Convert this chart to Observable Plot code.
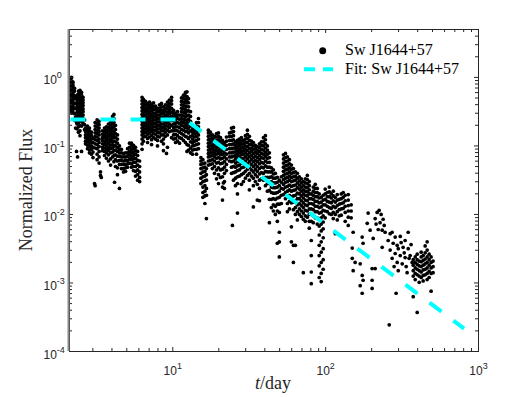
<!DOCTYPE html>
<html>
<head>
<meta charset="utf-8">
<script src="https://cdn.jsdelivr.net/npm/d3@7"></script>
<script src="https://cdn.jsdelivr.net/npm/@observablehq/plot@0.6"></script>
<style>
  html, body { margin: 0; padding: 0; background: white; }
</style>
</head>
<body>
<div id="chart"></div>
<script>
// Each column: [log10(t / day), log10(normalized flux) values at that time ...]
const colsEarly = [
  [0.328,-0.02,-0.06,-0.10,-0.13,-0.17,-0.21,-0.24,-0.28,-0.31,-0.35,-0.39,-0.42,-0.46,-0.50],
  [0.338,0.00,-0.05,-0.08,-0.12,-0.15,-0.19,-0.23,-0.26,-0.30,-0.33,-0.37,-0.41,-0.44,-0.48,-0.52],
  [0.347,-0.07,-0.11,-0.14,-0.18,-0.22,-0.25,-0.29,-0.32,-0.36,-0.40,-0.43,-0.47,-0.51],
  [0.357,-0.16,-0.20,-0.27,-0.31,-0.38,-0.45,-0.53,-0.62],
  [0.364,-0.58,-0.74],
  [0.370,-0.66,-1.08],
  [0.374,-0.26,-0.30,-0.34,-0.38,-0.42,-0.47,-0.51,-0.56,-0.62,-0.68,-0.75],
  [0.377,-1.16],
  [0.383,-0.20,-0.24,-0.28,-0.32,-0.37,-0.41,-0.45,-0.50,-0.54,-0.59,-0.66,-0.72,-0.80],
  [0.393,-0.19,-0.23,-0.27,-0.31,-0.35,-0.39,-0.44,-0.48,-0.53,-0.57,-0.63,-0.70,-0.78,-0.85],
  [0.403,-0.22,-0.26,-0.30,-0.34,-0.38,-0.43,-0.47,-0.52,-0.58,-0.64,-0.71,-1.08],
  [0.413,-0.29,-0.33,-0.37,-0.41,-0.46,-0.50,-0.55,-0.60,-0.67],
  [0.423,-0.62,-0.69,-0.76],
  [0.429,-0.74,-0.79,-0.84,-0.88,-0.93,-0.97],
  [0.442,-0.71,-0.76,-0.80,-0.85,-0.89,-0.94,-0.99,-1.04],
  [0.455,-0.74,-0.78,-0.83,-0.87,-0.92,-0.96,-1.01,-1.06,-1.10],
  [0.468,-0.80,-0.85,-0.90,-0.95,-1.00,-1.05,-1.12],
  [0.478,-0.89,-0.95,-1.02,-1.09,-1.17],
  [0.488,-1.55],
  [0.492,-0.66,-0.71,-0.76,-0.81,-0.86,-0.91,-0.97,-1.03,-1.58],
  [0.505,-0.62,-0.67,-0.72,-0.77,-0.82,-0.87,-0.92,-0.98,-1.04,-1.12,-1.20],
  [0.518,-0.64,-0.69,-0.74,-0.79,-0.84,-0.90,-0.95,-1.01,-1.08,-1.16,-1.25],
  [0.527,-1.38,-1.43],
  [0.532,-1.46],
  [0.540,-0.78,-0.83,-0.88,-0.92,-0.97,-1.02,-1.07],
  [0.553,-0.74,-0.79,-0.84,-0.88,-0.93,-0.98,-1.03,-1.08,-1.14],
  [0.566,-0.72,-0.77,-0.81,-0.86,-0.90,-0.95,-1.00,-1.05,-1.10,-1.18],
  [0.579,-0.68,-0.73,-0.78,-0.83,-0.87,-0.92,-0.97,-1.02,-1.07,-1.13,-1.22],
  [0.593,-0.65,-0.70,-0.75,-0.80,-0.85,-0.90,-0.94,-0.99,-1.04,-1.10,-1.19,-1.28],
  [0.606,-0.57,-0.63,-0.68,-0.73,-0.78,-0.83,-0.88,-0.93,-0.98,-1.03,-1.09,-1.16],
  [0.615,-0.54,-0.60,-0.66,-0.72,-0.79,-0.86,-0.93,-1.00,-1.07,-1.14,-1.23],
  [0.619,-1.53],
  [0.625,-0.70,-0.76,-0.82,-0.88,-0.94,-1.00,-1.06,-1.13,-1.20,-1.30],
  [0.638,-0.84,-0.90,-0.96,-1.02,-1.08,-1.15,-1.22,-1.32,-1.42],
  [0.651,-1.00,-1.05,-1.10,-1.15,-1.21,-1.27,-1.62],
  [0.664,-1.05,-1.10,-1.16,-1.21,-1.27,-1.33],
  [0.678,-1.11,-1.16,-1.22,-1.27,-1.33,-1.38],
  [0.691,-1.10,-1.16,-1.21,-1.27,-1.32,-1.37],
  [0.704,-1.04,-1.10,-1.15,-1.21,-1.26,-1.31],
  [0.717,-0.96,-1.02,-1.08,-1.13,-1.19,-1.25],
  [0.730,-0.96,-1.00,-1.05,-1.10,-1.15,-1.20,-1.26,-1.31],
  [0.743,-0.99,-1.04,-1.09,-1.14,-1.19,-1.24,-1.30,-1.36],
  [0.756,-1.02,-1.07,-1.12,-1.18,-1.24,-1.30,-1.37,-1.44],
  [0.770,-1.08,-1.14,-1.21,-1.28,-1.35,-1.42,-1.50],
  [0.783,-1.22,-1.30,-1.38,-1.46,-1.52]
];

const colsPlateau = [
  [0.799,-0.29,-0.34,-0.39,-0.44,-0.49,-0.54,-0.59,-0.64,-0.69,-0.74,-0.79,-0.84,-0.90,-0.97,-1.05],
  [0.808,-0.32,-0.37,-0.42,-0.47,-0.52,-0.57,-0.62,-0.67,-0.72,-0.77,-0.82,-0.87,-0.93],
  [0.822,-0.35,-0.40,-0.45,-0.50,-0.55,-0.60,-0.65,-0.70,-0.75,-0.80,-0.86],
  [0.835,-0.38,-0.43,-0.48,-0.53,-0.58,-0.63,-0.68,-0.73,-0.78,-0.83,-0.89,-0.95],
  [0.848,-0.36,-0.41,-0.46,-0.51,-0.56,-0.61,-0.66,-0.71,-0.76,-0.81,-0.87],
  [0.861,-0.39,-0.44,-0.49,-0.54,-0.59,-0.64,-0.69,-0.74,-0.79,-0.85,-0.91,-0.98],
  [0.874,-0.37,-0.42,-0.47,-0.52,-0.57,-0.62,-0.67,-0.72,-0.77,-0.82,-0.88],
  [0.887,-0.42,-0.47,-0.52,-0.57,-0.62,-0.67,-0.72,-0.77,-0.83,-0.90],
  [0.900,-0.45,-0.50,-0.55,-0.60,-0.65,-0.70,-0.75,-0.80,-0.86,-0.92,-1.00],
  [0.913,-0.40,-0.45,-0.50,-0.55,-0.60,-0.65,-0.70,-0.75,-0.81,-0.87],
  [0.926,-0.38,-0.43,-0.48,-0.53,-0.58,-0.63,-0.68,-0.73,-0.78,-0.84,-0.93],
  [0.939,-0.43,-0.48,-0.53,-0.58,-0.63,-0.68,-0.73,-0.78,-0.84,-0.90,-0.97,-1.07],
  [0.952,-0.40,-0.45,-0.50,-0.55,-0.60,-0.65,-0.70,-0.75,-0.80,-0.86],
  [0.959,-1.11],
  [0.965,-0.36,-0.41,-0.46,-0.51,-0.56,-0.61,-0.66,-0.71,-0.77,-0.84,-1.02],
  [0.978,-0.33,-0.38,-0.43,-0.48,-0.53,-0.58,-0.63,-0.68,-0.73,-0.79],
  [0.992,-0.29,-0.34,-0.39,-0.45,-0.51,-0.57,-0.63,-0.70,-0.78,-0.88],
  [1.005,-0.48,-0.53,-0.58,-0.63,-0.68,-0.73,-0.78,-0.84,-0.90],
  [1.018,-0.52,-0.57,-0.62,-0.67,-0.72,-0.77,-0.83,-0.89,-0.95],
  [1.031,-0.50,-0.55,-0.60,-0.66,-0.72,-0.78,-0.85,-0.93],
  [1.044,-0.55,-0.61,-0.67,-0.73,-0.80,-0.88,-0.96],
  [1.057,-0.30,-0.35,-0.40,-0.45,-0.50,-0.55,-0.60,-0.65,-0.70,-0.76,-0.82,-0.89],
  [1.070,-0.26,-0.31,-0.36,-0.41,-0.46,-0.51,-0.56,-0.61,-0.66,-0.71,-0.77,-0.84,-0.92],
  [1.083,-0.22,-0.27,-0.32,-0.37,-0.42,-0.47,-0.52,-0.57,-0.62,-0.67,-0.73,-0.79,-0.86,-0.95],
  [1.093,-0.21,-0.28,-0.35,-0.42,-0.49,-0.56,-0.63,-0.70,-0.78,-0.87,-0.98,-1.08],
  [1.103,-0.31,-0.37,-0.43,-0.49,-0.55,-0.61,-0.67,-0.74,-0.81,-0.89,-0.99,-1.06],
  [1.116,-0.50,-0.57,-0.64,-0.71,-0.78,-0.86,-0.94,-1.03,-1.10],
  [1.129,-0.70,-0.75,-0.80,-0.85,-0.90,-0.95,-1.00,-1.06,-1.12],
  [1.142,-0.72,-0.77,-0.82,-0.87,-0.93,-0.99,-1.05],
  [1.155,-0.66,-0.71,-0.76,-0.81,-0.86,-0.92,-0.98,-1.05,-1.12],
  [1.168,-0.60,-0.66,-0.72,-0.78,-0.84,-0.90,-0.97,-1.04]
];

const colsDecline = [
  [1.184,-1.17,-1.22,-1.27,-1.33,-1.40,-1.47,-1.55],
  [1.197,-1.20,-1.26,-1.32,-1.38,-1.45,-1.52,-1.60,-1.68,-1.75],
  [1.210,-1.25,-1.31,-1.37,-1.44,-1.51,-1.58,-1.66,-1.73,-1.84],
  [1.220,-1.33,-1.42,-1.50,-1.62,-1.72,-2.06],
  [1.233,-0.77,-0.81,-0.86,-0.91,-0.96,-1.01,-1.06,-1.11,-1.16,-1.22,-1.28],
  [1.246,-0.80,-0.85,-0.90,-0.95,-1.00,-1.05,-1.10,-1.15,-1.21,-1.27],
  [1.259,-0.84,-0.89,-0.94,-0.99,-1.04,-1.09,-1.14,-1.20,-1.26,-1.33],
  [1.273,-0.86,-0.91,-0.96,-1.01,-1.06,-1.11,-1.16,-1.22,-1.30,-1.40],
  [1.286,-0.82,-0.87,-0.92,-0.97,-1.02,-1.07,-1.12,-1.18,-1.25,-1.35,-1.48],
  [1.299,-0.81,-0.86,-0.91,-0.96,-1.01,-1.06,-1.11,-1.17,-1.24,-1.32,-1.42,-1.55],
  [1.312,-0.88,-0.93,-0.98,-1.03,-1.08,-1.13,-1.19,-1.26,-1.35,-1.46],
  [1.325,-0.92,-0.97,-1.02,-1.07,-1.12,-1.18,-1.25,-1.34,-1.45,-1.60,-1.79],
  [1.331,-1.54],
  [1.338,-0.95,-1.00,-1.05,-1.10,-1.16,-1.23,-1.31,-1.40,-1.52,-1.62],
  [1.351,-0.87,-0.93,-0.99,-1.05,-1.12,-1.19,-1.27,-1.36],
  [1.371,-0.81,-0.86,-0.92,-0.98,-1.04,-1.10,-1.16,-1.22],
  [1.384,-0.74,-0.80,-0.86,-0.92,-0.98,-1.04,-1.10,-1.16,-1.23,-1.31,-1.40],
  [1.390,-2.16],
  [1.397,-0.73,-0.79,-0.85,-0.91,-0.97,-1.03,-1.09,-1.15,-1.22,-1.30,-1.39,-1.50],
  [1.410,-0.94,-0.99,-1.04,-1.09,-1.14,-1.19,-1.25,-1.31,-1.38,-1.47,-1.58],
  [1.423,-0.92,-0.97,-1.02,-1.07,-1.12,-1.17,-1.23,-1.29,-1.36,-1.45,-1.55,-1.70,-1.98],
  [1.436,-0.90,-0.95,-1.00,-1.05,-1.10,-1.16,-1.22,-1.28,-1.35,-1.44],
  [1.449,-0.88,-0.93,-0.98,-1.03,-1.08,-1.13,-1.19,-1.25,-1.32,-1.42,-1.56],
  [1.462,-0.92,-0.97,-1.02,-1.07,-1.12,-1.18,-1.24,-1.31,-1.40,-1.52],
  [1.475,-0.85,-0.90,-0.95,-1.00,-1.05,-1.10,-1.16,-1.22,-1.29,-1.37,-1.47],
  [1.488,-0.77,-0.83,-0.89,-0.95,-1.01,-1.07,-1.13,-1.19,-1.26,-1.34,-1.43],
  [1.501,-0.86,-0.92,-0.98,-1.04,-1.10,-1.16,-1.23,-1.31,-1.40,-1.50,-1.64],
  [1.514,-0.93,-0.98,-1.03,-1.08,-1.14,-1.20,-1.27,-1.35,-1.44],
  [1.527,-0.95,-1.00,-1.05,-1.11,-1.17,-1.23,-1.30,-1.38,-1.47,-1.58,-1.89],
  [1.540,-0.99,-1.04,-1.09,-1.15,-1.21,-1.27,-1.34,-1.42,-1.52],
  [1.553,-1.01,-1.06,-1.11,-1.17,-1.23,-1.30,-1.37,-1.45,-1.56,-1.79],
  [1.567,-0.97,-1.02,-1.08,-1.14,-1.20,-1.26,-1.33,-1.41,-1.50,-1.62,-1.80],
  [1.580,-0.94,-0.99,-1.05,-1.11,-1.17,-1.24,-1.31,-1.39,-1.48],
  [1.593,-0.88,-0.94,-1.00,-1.06,-1.12,-1.18,-1.25,-1.32,-1.40,-1.50],
  [1.606,-0.85,-0.91,-0.97,-1.03,-1.09,-1.15,-1.22,-1.29,-1.37,-1.46,-1.58],
  [1.619,-1.00,-1.06,-1.12,-1.18,-1.24,-1.31,-1.38,-1.46,-1.55,-1.66],
  [1.632,-1.10,-1.17,-1.24,-1.31,-1.38,-1.46,-1.55,-1.65,-1.78,-2.12],
  [1.645,-1.32,-1.38,-1.45,-1.52,-1.60,-1.68,-1.78,-1.90],
  [1.658,-1.35,-1.41,-1.47,-1.54,-1.61,-1.69,-1.77,-1.86,-1.95],
  [1.671,-1.40,-1.47,-1.54,-1.61,-1.69,-1.78,-1.88,-2.00],
  [1.684,-1.46,-1.53,-1.60,-1.68,-1.76,-1.85,-1.95,-2.10,-2.42],
  [1.697,-1.50,-1.58,-1.66,-1.75,-1.85,-1.97,-2.26,-2.40,-2.62],
  [1.710,-1.45,-1.53,-1.62,-1.72,-1.84],
  [1.724,-1.13,-1.19,-1.25,-1.31,-1.37,-1.43,-1.49,-1.56,-1.63,-1.71],
  [1.737,-1.11,-1.17,-1.23,-1.29,-1.35,-1.41,-1.47,-1.53,-1.60,-1.68,-1.77],
  [1.750,-1.16,-1.22,-1.28,-1.34,-1.40,-1.46,-1.52,-1.59,-1.66,-1.74,-1.84,-1.96],
  [1.763,-1.20,-1.26,-1.32,-1.38,-1.44,-1.50,-1.57,-1.64,-1.72,-1.81,-1.92],
  [1.776,-1.28,-1.34,-1.40,-1.46,-1.52,-1.59,-1.66,-1.74,-1.83,-2.18,-2.40],
  [1.789,-1.33,-1.39,-1.45,-1.51,-1.58,-1.65,-1.73,-1.82,-1.93,-2.45,-2.70],
  [1.802,-1.38,-1.44,-1.50,-1.57,-1.64,-1.72,-1.80,-1.90,-2.00,-2.45],
  [1.815,-1.40,-1.47,-1.54,-1.61,-1.69,-1.77,-1.86,-1.96,-2.08]
];

const colsLate = [
  [1.828,-1.45,-1.51,-1.57,-1.63,-1.70,-1.77,-1.84,-1.92,-2.00],
  [1.841,-1.48,-1.54,-1.60,-1.66,-1.73,-1.80,-1.87,-1.95,-2.03],
  [1.854,-1.52,-1.58,-1.64,-1.70,-1.76,-1.83,-1.90,-1.98,-2.07,-2.85],
  [1.867,-1.48,-1.54,-1.60,-1.66,-1.72,-1.79,-1.86,-1.94,-2.02,-2.10],
  [1.880,-1.43,-1.49,-1.55,-1.61,-1.67,-1.73,-1.80,-1.87,-1.95,-2.04],
  [1.893,-1.52,-1.58,-1.64,-1.70,-1.77,-1.84,-1.92,-2.00,-2.10,-2.20],
  [1.906,-1.70,-1.77,-1.84,-1.92,-2.00,-2.10,-2.38,-2.60,-2.84,-3.01],
  [1.919,-1.60,-1.66,-1.72,-1.78,-1.85,-1.93,-2.02,-2.12],
  [1.932,-1.56,-1.62,-1.68,-1.74,-1.81,-1.88,-1.96,-2.05],
  [1.945,-1.62,-1.68,-1.74,-1.81,-1.88,-1.96,-2.05,-2.14],
  [1.958,-1.70,-1.76,-1.83,-1.90,-1.98,-2.07,-2.17,-2.30,-2.45,-2.60,-2.75,-2.92],
  [1.971,-1.75,-1.82,-1.89,-1.97,-2.05,-2.14,-2.24,-2.40,-2.55,-2.70,-2.86,-2.98],
  [1.984,-1.72,-1.79,-1.86,-1.94,-2.02,-2.11,-2.21,-2.34,-2.50,-2.66,-2.80],
  [1.997,-1.63,-1.70,-1.78,-1.86,-1.95,-2.05],
  [2.011,-1.68,-1.74,-1.81,-1.88,-1.96],
  [2.024,-1.60,-1.67,-1.74,-1.82,-1.90,-1.99],
  [2.037,-1.70,-1.76,-1.83,-1.91,-2.00],
  [2.050,-1.66,-1.73,-1.80,-1.88,-1.97,-2.06],
  [2.063,-1.75,-1.82,-1.90,-2.00,-2.28],
  [2.076,-1.71,-1.79,-1.87,-1.96,-2.08],
  [2.089,-1.78,-1.85,-1.93,-2.02],
  [2.102,-1.70,-1.77,-1.84,-1.92,-2.01],
  [2.115,-1.68,-1.75,-1.83,-1.91],
  [2.128,-1.72,-1.80,-1.88,-1.97,-2.10],
  [2.148,-1.71,-1.79,-1.87,-1.95,-2.04,-2.16],
  [2.167,-1.86,-1.95,-2.05],
  [2.174,-2.49,-2.64],
  [2.180,-2.26,-2.82],
  [2.193,-2.70],
  [2.226,-2.72,-3.04],
  [2.239,-2.33,-2.89,-3.15],
  [2.245,-2.42,-2.96],
  [2.272,-2.13],
  [2.278,-1.98],
  [2.291,-2.23],
  [2.304,-2.79,-2.96,-3.08],
  [2.311,-2.35],
  [2.324,-2.06,-2.79],
  [2.330,-2.14],
  [2.337,-1.97],
  [2.344,-2.22],
  [2.350,-1.94],
  [2.356,-2.12],
  [2.363,-2.00],
  [2.370,-2.23,-2.48],
  [2.376,-2.07],
  [2.383,-2.16],
  [2.389,-2.26],
  [2.409,-2.38],
  [2.416,-3.61],
  [2.422,-2.28,-2.52],
  [2.435,-2.26,-2.64],
  [2.442,-2.42],
  [2.448,-2.76],
  [2.455,-2.33,-2.57],
  [2.461,-3.15],
  [2.468,-2.45,-2.70],
  [2.475,-2.50,-2.82],
  [2.488,-2.32,-2.60],
  [2.494,-2.41],
  [2.501,-2.72],
  [2.507,-2.48],
  [2.514,-2.56],
  [2.520,-2.38,-2.63],
  [2.527,-2.76],
  [2.533,-2.85],
  [2.540,-2.26,-2.50],
  [2.546,-2.64],
  [2.553,-2.60],
  [2.559,-2.44],
  [2.566,-2.70],
  [2.573,-2.66,-2.74,-2.82,-2.90,-3.20],
  [2.586,-2.62,-2.70,-2.78,-2.86,-2.95],
  [2.599,-2.58,-2.66,-2.73,-2.80,-2.88,-3.43],
  [2.612,-2.68,-2.75,-2.82,-2.90,-2.99],
  [2.625,-2.55,-2.62,-2.69,-2.76,-2.84,-2.92],
  [2.638,-2.60,-2.67,-2.74,-2.81,-2.89,-2.97],
  [2.651,-2.46,-2.56,-2.65,-2.72,-2.80,-2.88],
  [2.664,-2.40,-2.52,-2.62,-2.70,-2.78,-2.86,-2.95],
  [2.677,-2.58,-2.66,-2.74,-2.83,-2.92],
  [2.690,-2.62,-2.70,-2.78,-2.86,-3.12],
  [2.703,-2.68,-2.76,-2.85]
];

// Broken power-law fit (flat, then decaying), read at its ends and break
const fitDays = [2.11, 12.1, 805];
const fitFlux = [0.243, 0.243, 2.16e-4];

// Axes
const xDomain = [2.11, 1000];
const yDomain = [1e-4, 5];
const xMajorTicks = [10, 100, 1000];
const xTickLabels = ["10^1", "10^2", "10^3"];
const xMinorTicks = [3,4,5,6,7,8,9,20,30,40,50,60,70,80,90,200,300,400,500,600,700,800,900];
const yMajorTicks = [1e-4, 1e-3, 1e-2, 1e-1, 1];
const yTickLabels = ["10^-4", "10^-3", "10^-2", "10^-1", "10^0"];
const yMinorTicks = [2e-4,3e-4,4e-4,5e-4,6e-4,7e-4,8e-4,9e-4,
                     2e-3,3e-3,4e-3,5e-3,6e-3,7e-3,8e-3,9e-3,
                     2e-2,3e-2,4e-2,5e-2,6e-2,7e-2,8e-2,9e-2,
                     0.2,0.3,0.4,0.5,0.6,0.7,0.8,0.9,2,3,4];
const legendLabels = ["Sw J1644+57", "Fit: Sw J1644+57"];
const xLabel = ["t", "/day"];
const yLabel = "Normalized Flux";

// Build tables
const observations = [];
for (const col of [...colsEarly, ...colsPlateau, ...colsDecline, ...colsLate]) {
  const [lt, ...lfs] = col;
  for (const lf of lfs) observations.push({t: 10 ** lt, flux: 10 ** lf});
}
const fitTable = fitDays.map((t, i) => ({t, flux: fitFlux[i]}));

const W = 529, H = 397;
const mL = 69, mR = 51, mT = 29, mB = 46;
const fw = W - mL - mR, fh = H - mT - mB;
const axisColor = "#262626";
const majorLen = 4, minorLen = 3;

const svg = Plot.plot({
  width: W,
  height: H,
  marginLeft: mL, marginRight: mR, marginTop: mT, marginBottom: mB,
  style: {background: "white", fontFamily: "'Liberation Sans', Arial, sans-serif", fontSize: "12px", overflow: "visible"},
  x: {type: "log", domain: xDomain, axis: null},
  y: {type: "log", domain: yDomain, axis: null},
  marks: [
    Plot.dot(observations, {x: "t", y: "flux", r: 1.85, fill: "black", stroke: "none"}),
    Plot.line(fitTable, {x: "t", y: "flux", stroke: "#00ffff", strokeWidth: 4, strokeDasharray: "15,15", strokeDashoffset: -1, strokeLinecap: "butt"}),
    // ticks (inward, on all four sides)
    Plot.tickX(xMajorTicks, {x: d => d, stroke: axisColor, insetTop: fh - majorLen}),
    Plot.tickX(xMajorTicks, {x: d => d, stroke: axisColor, insetBottom: fh - majorLen}),
    Plot.tickX(xMinorTicks, {x: d => d, stroke: axisColor, insetTop: fh - minorLen}),
    Plot.tickX(xMinorTicks, {x: d => d, stroke: axisColor, insetBottom: fh - minorLen}),
    Plot.tickY(yMajorTicks, {y: d => d, stroke: axisColor, insetRight: fw - majorLen}),
    Plot.tickY(yMajorTicks, {y: d => d, stroke: axisColor, insetLeft: fw - majorLen}),
    Plot.tickY(yMinorTicks, {y: d => d, stroke: axisColor, insetRight: fw - minorLen}),
    Plot.tickY(yMinorTicks, {y: d => d, stroke: axisColor, insetLeft: fw - minorLen}),
    Plot.frame({stroke: axisColor}),
    // tick labels
    Plot.text(xMajorTicks, {x: d => d, text: (d, i) => xTickLabels[i], frameAnchor: "bottom", lineAnchor: "bottom", dy: 23, fill: axisColor, fontSize: 12}),
    Plot.text(yMajorTicks, {y: d => d, text: (d, i) => yTickLabels[i], frameAnchor: "left", textAnchor: "start", lineAnchor: "bottom", dx: -26, dy: 7, fill: axisColor, fontSize: 12})
  ]
});

// superscripts for tick labels
d3.select(svg).selectAll("text").each(function() {
  const m = /^10\^(.+)$/.exec(this.textContent);
  if (!m) return;
  const sel = d3.select(this);
  sel.text(null);
  sel.append("tspan").text("10");
  sel.append("tspan").attr("dy", -6).attr("font-size", 9).text(m[1]);
});

const s = d3.select(svg);
// left axis line (rendered grey/thicker in the original)
s.append("line").attr("x1", mL - 0.5).attr("x2", mL - 0.5).attr("y1", mT).attr("y2", H - mB)
  .attr("stroke", "#8a8a8a").attr("stroke-width", 2);

const serif = "'Liberation Serif', 'Times New Roman', serif";
// axis labels
const xl = s.append("text").attr("x", 273).attr("y", 389).attr("text-anchor", "middle")
  .attr("font-family", serif).attr("font-size", 18).attr("fill", axisColor);
xl.append("tspan").attr("font-style", "italic").text(xLabel[0]);
xl.append("tspan").text(xLabel[1]);
s.append("text").attr("transform", `translate(32,${mT + fh / 2}) rotate(-90)`).attr("text-anchor", "middle")
  .attr("font-family", serif).attr("font-size", 18).attr("fill", axisColor).text(yLabel);

// legend
const lg = s.append("g").attr("font-family", serif).attr("font-size", 16).attr("fill", "black")
  .attr("text-anchor", "start");
lg.append("circle").attr("cx", 322.7).attr("cy", 50.7).attr("r", 3.5).attr("fill", "black");
lg.append("text").attr("x", 345).attr("y", 55).attr("text-anchor", "start").text(legendLabels[0]);
lg.append("line").attr("x1", 304).attr("x2", 333).attr("y1", 69.3).attr("y2", 69.3)
  .attr("stroke", "#00ffff").attr("stroke-width", 4).attr("stroke-dasharray", "11,8");
lg.append("text").attr("x", 345).attr("y", 74).attr("text-anchor", "start").text(legendLabels[1]);

document.getElementById("chart").appendChild(svg);
</script>
</body>
</html>
